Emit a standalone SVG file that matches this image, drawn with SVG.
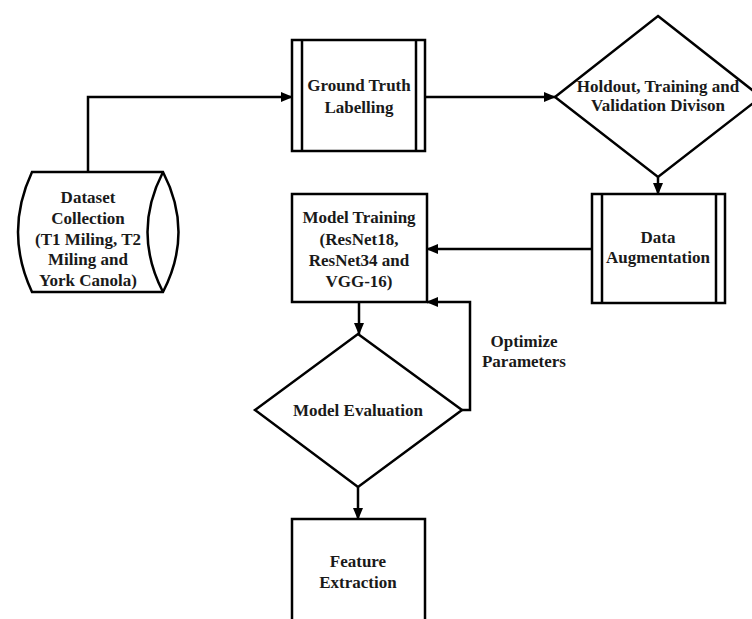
<svg xmlns="http://www.w3.org/2000/svg" width="752" height="619" viewBox="0 0 752 619">
<defs>
<marker id="arr" markerWidth="12" markerHeight="10" refX="11" refY="5" orient="auto" markerUnits="userSpaceOnUse">
<path d="M0,0 L12,5 L0,10 Z" fill="#000"/>
</marker>
<style>
.s{fill:#fff;stroke:#000;stroke-width:2.5}
.l{fill:none;stroke:#000;stroke-width:2.5}
.c{fill:none;stroke:#000;stroke-width:2.5;marker-end:url(#arr)}
text{font-family:"Liberation Serif","Times New Roman",serif;font-weight:bold;font-size:17px;text-anchor:middle;fill:#1a1a1a}
</style>
</defs>
<rect width="752" height="619" fill="#fff"/>
<g id="connectors">
<path class="c" d="M88,172 L88,97 L292,97"/>
<path class="c" d="M425,97 L555,97"/>
<path class="c" d="M658,177 L658,194"/>
<path class="c" d="M592,249 L427,249"/>
<path class="c" d="M359,302 L359,334"/>
<path class="c" d="M462,410 L470,410 L470,302 L427,302"/>
<path class="c" d="M358,487 L358,519"/>
</g>
<g id="dataset">
<path class="s" d="M32,172 L163,172 Q194,232 163,292 L32,292 Q4,232 32,172 Z"/>
<path class="l" d="M163,172 Q132,232 163,292"/>
<text x="88" y="203">Dataset</text>
<text x="88" y="224">Collection</text>
<text x="88" y="245">(T1 Miling, T2</text>
<text x="88" y="265">Miling and</text>
<text x="88" y="286">York Canola)</text>
</g>
<g id="ground-truth">
<rect class="s" x="292" y="40" width="133" height="111"/>
<line class="l" x1="302" y1="40" x2="302" y2="151"/>
<line class="l" x1="416" y1="40" x2="416" y2="151"/>
<text x="359" y="91">Ground Truth</text>
<text x="359" y="113">Labelling</text>
</g>
<g id="holdout">
<path class="s" d="M658,16 L761,97 L658,177 L555,97 Z"/>
<text x="658" y="92">Holdout, Training and</text>
<text x="658" y="111">Validation Divison</text>
</g>
<g id="augmentation">
<rect class="s" x="592" y="194" width="133" height="109"/>
<line class="l" x1="602" y1="194" x2="602" y2="303"/>
<line class="l" x1="716" y1="194" x2="716" y2="303"/>
<text x="658" y="243">Data</text>
<text x="658" y="263">Augmentation</text>
</g>
<g id="model-training">
<rect class="s" x="292" y="194" width="135" height="108"/>
<text x="359" y="223">Model Training</text>
<text x="359" y="245">(ResNet18,</text>
<text x="359" y="266">ResNet34 and</text>
<text x="359" y="287">VGG-16)</text>
</g>
<g id="model-evaluation">
<path class="s" d="M358,334 L462,410 L358,487 L255,410 Z"/>
<text x="358" y="416">Model Evaluation</text>
</g>
<g id="optimize-label">
<text x="524" y="347">Optimize</text>
<text x="524" y="367">Parameters</text>
</g>
<g id="feature-extraction">
<rect class="s" x="292" y="519" width="133" height="120"/>
<text x="358" y="567">Feature</text>
<text x="358" y="588">Extraction</text>
</g>
</svg>
